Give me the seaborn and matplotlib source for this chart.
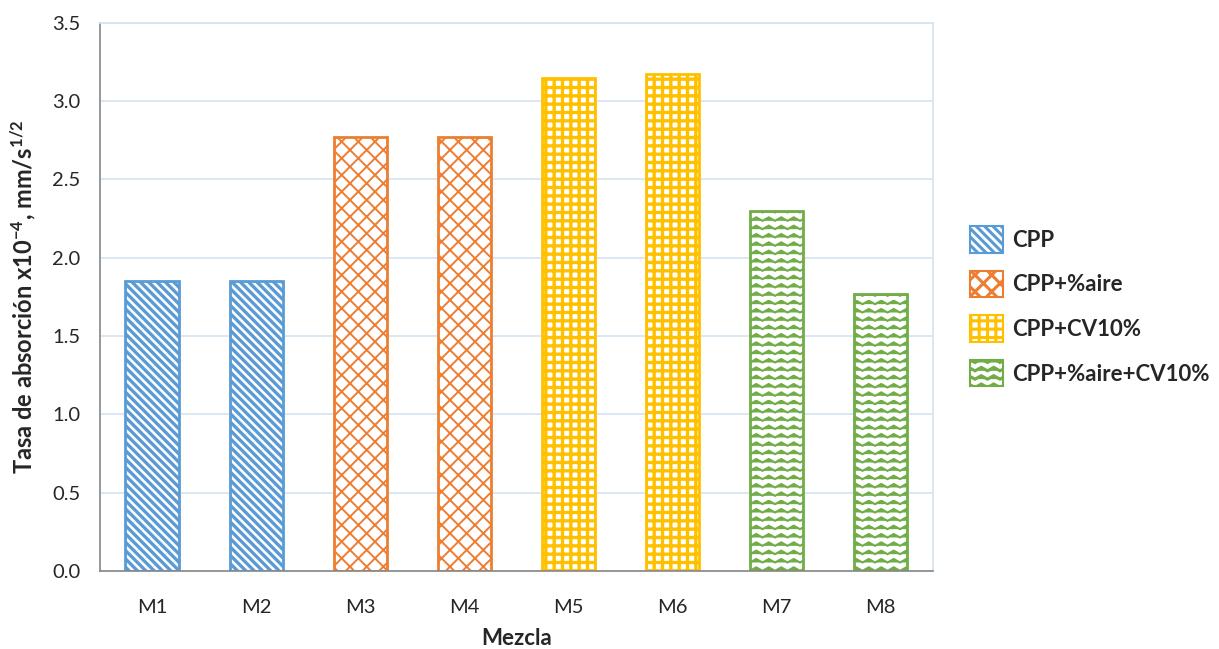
import numpy as np
import pandas as pd
import matplotlib
matplotlib.use("Agg")
import matplotlib.pyplot as plt
import matplotlib.hatch as mhatch
from matplotlib.path import Path
from matplotlib.patches import Patch
import seaborn as sns
import warnings

warnings.filterwarnings("ignore")

mezclas = ["M1", "M2", "M3", "M4", "M5", "M6", "M7", "M8"]
tasa = [1.85, 1.85, 2.77, 2.77, 3.15, 3.17, 2.30, 1.77]
grupos = ["CPP", "CPP", "CPP+%aire", "CPP+%aire", "CPP+CV10%", "CPP+CV10%",
          "CPP+%aire+CV10%", "CPP+%aire+CV10%"]
grupo_orden = ["CPP", "CPP+%aire", "CPP+CV10%", "CPP+%aire+CV10%"]
colores = ["#5B9BD5", "#ED7D31", "#FFC000", "#70AD47"]
tramas = ["\\\\\\\\", "xx", "++", "~~"]
hatch_lw = [2.4, 1.4, 2.4, 1.5]


# wavy hatch, like the Excel "wave" pattern
class WaveHatch(mhatch.HatchPatternBase):
    n_per = 8

    def __init__(self, hatch, density):
        self.num_lines = int(hatch.count('~') * density)
        self.pts = self.n_per * 2 + 1
        self.num_vertices = self.num_lines * self.pts

    def set_vertices_and_codes(self, vertices, codes):
        steps, stepsize = np.linspace(0.0, 1.0, self.num_lines, False, retstep=True)
        steps += stepsize / 2.
        xs = np.linspace(0.0, 1.0, self.pts)
        amp = np.tile([0.0, 0.035], self.n_per + 1)[:self.pts]
        for i, y in enumerate(steps):
            sl = slice(i * self.pts, (i + 1) * self.pts)
            vertices[sl, 0] = xs
            vertices[sl, 1] = y + amp
            codes[sl] = Path.LINETO
            codes[i * self.pts] = Path.MOVETO


mhatch._hatch_types.append(WaveHatch)

df = pd.DataFrame({"Mezcla": mezclas, "Tasa": tasa, "Grupo": grupos})

sns.set_style("white")
plt.rcParams['font.family'] = ['Lato', 'DejaVu Sans']
plt.rcParams['mathtext.fontset'] = 'custom'
plt.rcParams['mathtext.rm'] = 'Lato'
plt.rcParams['mathtext.bf'] = 'Lato:bold'
plt.rcParams['mathtext.default'] = 'bf'
plt.rcParams['hatch.linewidth'] = 2.2

fig = plt.figure(figsize=(12.19, 6.49), dpi=100)
ax = fig.add_axes([0.082, 0.12, 0.683, 0.845])

sns.barplot(data=df, x="Mezcla", y="Tasa", hue="Grupo", hue_order=grupo_orden,
            palette=colores, dodge=False, width=0.51, legend=False, ax=ax)


def style_patch(p, g):
    p.set_facecolor("white")
    p.set_edgecolor(colores[g])
    p.set_hatch(tramas[g])
    if hasattr(p, "set_hatch_linewidth"):
        p.set_hatch_linewidth(hatch_lw[g])


for p in ax.patches:
    idx = int(round(p.get_x() + p.get_width() / 2))
    if idx < 0 or idx >= len(mezclas):
        continue
    g = grupo_orden.index(grupos[idx])
    style_patch(p, g)
    p.set_linewidth(2)

ax.set_ylim(0, 3.5)
ax.set_xlim(-0.5, 7.5)
ax.set_yticks(np.arange(0, 3.51, 0.5))
ax.set_yticklabels([f"{v:.1f}" for v in np.arange(0, 3.51, 0.5)], fontsize=14.5)
ax.tick_params(axis="x", which="major", length=0, labelsize=14.5, pad=20)
ax.set_xticks(np.arange(-0.5, 8, 1), minor=True)
ax.tick_params(axis="x", which="minor", length=7, color="#868686", direction="out")
ax.tick_params(axis="y", length=6, color="#868686", direction="out", pad=8)
ax.grid(axis="y", color="#D6E3F2", linewidth=1.2)
ax.set_axisbelow(True)

for s in ["left", "bottom"]:
    ax.spines[s].set_color("#868686")
    ax.spines[s].set_linewidth(1.2)
for s in ["top", "right"]:
    ax.spines[s].set_color("#D6E3F2")
    ax.spines[s].set_linewidth(1.2)

ax.set_xlabel("Mezcla", fontsize=16, fontweight="bold", labelpad=9)
ax.set_ylabel(r"Tasa de absorción x10$^{-4}$, mm/s$^{1/2}$", fontsize=17,
              fontweight="bold", labelpad=10)

handles = []
for i in range(len(grupo_orden)):
    h = Patch(linewidth=1.5)
    style_patch(h, i)
    handles.append(h)
fig.legend(handles, grupo_orden, loc="center left", bbox_to_anchor=(0.796, 0.528),
           frameon=False, prop={"weight": "bold", "size": 16}, borderpad=0,
           borderaxespad=0, handlelength=1.45, handleheight=1.45, labelspacing=0.82,
           handletextpad=0.45)

plt.savefig("out.png", dpi=100)
plt.close()
